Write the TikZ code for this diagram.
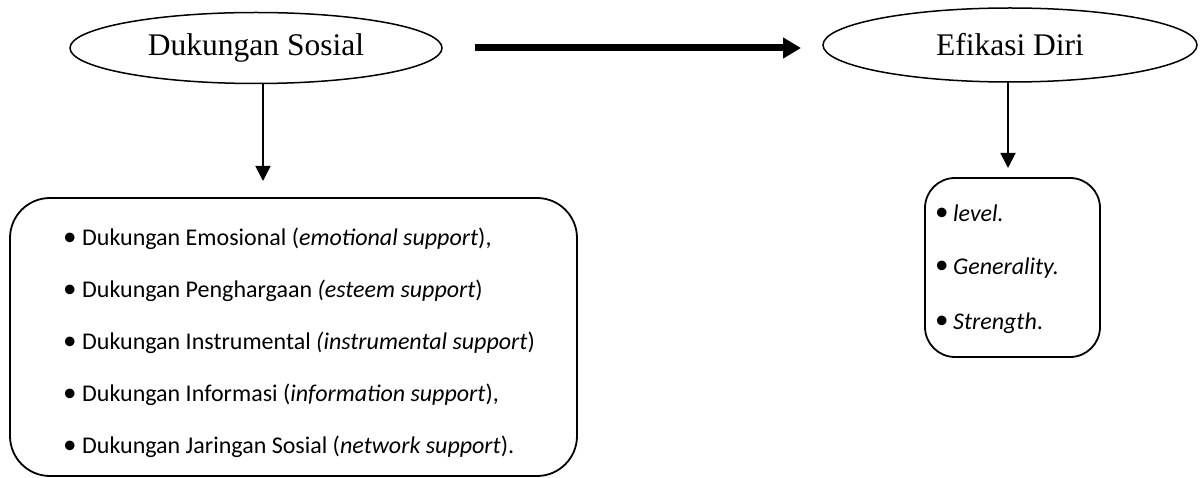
\documentclass[tikz,border=0pt]{standalone}
\usepackage{fontspec}
\setmainfont{Liberation Serif}
\newfontfamily\carl{Carlito}
\usetikzlibrary{arrows.meta,shapes.geometric}
\tikzset{
  oval/.style={ellipse, draw, line width=1.5pt, inner sep=0pt, font=\fontsize{31.5}{36}\selectfont},
  listbox/.style={draw, line width=1.8pt, rectangle, inner sep=0pt},
  item/.style={anchor=west, inner sep=0pt, font=\carl\fontsize{24}{28}\selectfont},
  thinarrow/.style={line width=1.8pt, -{Triangle[length=15pt,width=15pt]}},
  thickarrow/.style={line width=7pt, -{Triangle[length=18pt,width=20pt]}}
}
\newcommand{\bul}[1]{\makebox[#1][l]{\raisebox{0.5pt}{\fontsize{27}{27}\selectfont\textbullet}}}
\begin{document}
\begin{tikzpicture}[x=1pt,y=-1pt]
\useasboundingbox (0,0) rectangle (1202,478);
% ellipses
\node[oval, minimum width=372pt, minimum height=71pt] (ls) at (256,48) {Dukungan Sosial};
\node[oval, minimum width=374pt, minimum height=74pt] (rs) at (1010,45) {Efikasi Diri};
% boxes
\node[listbox, rounded corners=40pt, minimum width=567pt, minimum height=278pt] (lbox) at (293.5,337) {};
\node[listbox, rounded corners=30pt, minimum width=175pt, minimum height=179pt] (rbox) at (1012.5,267.5) {};
% arrows
\coordinate (la) at (263,83);
\coordinate (lb) at (263,181);
\coordinate (ra) at (1008,82);
\coordinate (rb) at (1008,168);
\coordinate (ta) at (475,48);
\coordinate (tb) at (801,48);
\draw[thinarrow] (la) -- (lb);
\draw[thinarrow] (ra) -- (rb);
\draw[thickarrow] (ta) -- (tb);
% left items
\node[item] (l1) at (63,239) {\bul{19pt}Dukungan Emosional (\textit{emotional support}),};
\node[item] (l2) at (63,291) {\bul{19pt}Dukungan Penghargaan \textit{(esteem support})};
\node[item] (l3) at (63,343) {\bul{19pt}Dukungan Instrumental \textit{(instrumental support})};
\node[item] (l4) at (63,395) {\bul{19pt}Dukungan Informasi (\textit{information support}),};
\node[item] (l5) at (63,447) {\bul{19pt}Dukungan Jaringan Sosial (\textit{network support}).};
% right items
\node[item] (r1) at (935,213) {\bul{18pt}\textit{level.}};
\node[item] (r2) at (935,268) {\bul{18pt}\textit{Generality.}};
\node[item] (r3) at (935,323) {\bul{18pt}\textit{Strength}.};
\end{tikzpicture}
\end{document}
